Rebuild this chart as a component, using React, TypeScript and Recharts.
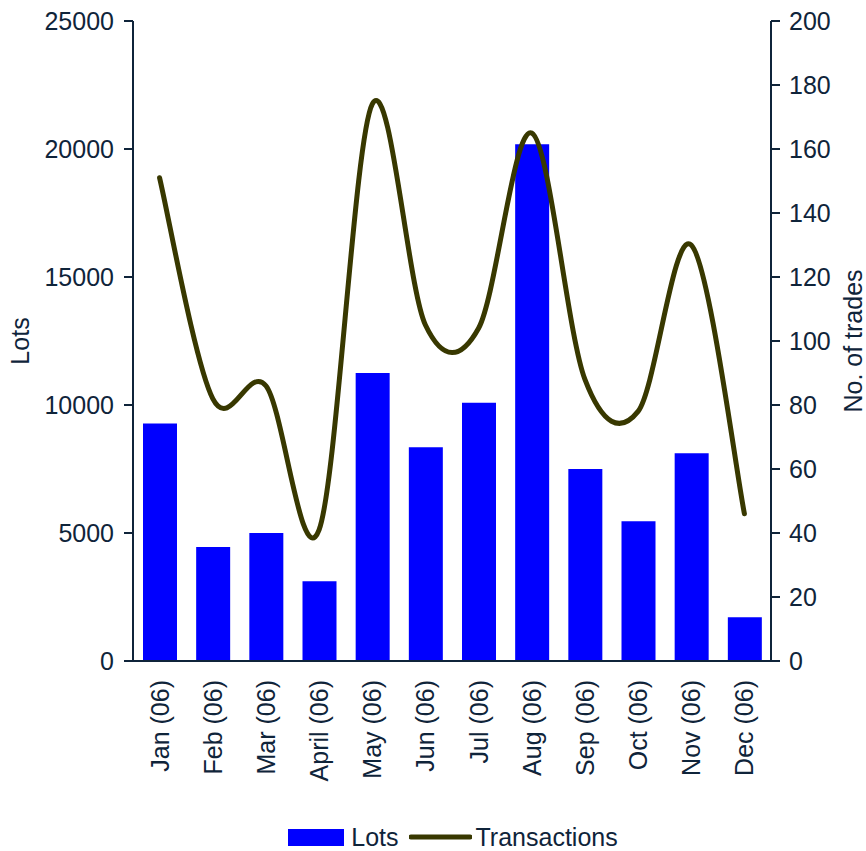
import React from "react";
import {
  ComposedChart,
  Bar,
  Line,
  XAxis,
  YAxis,
  Legend,
  Label,
} from "recharts";

const FONT = '"Liberation Sans", Arial, sans-serif';
const INK = "#0f243a";
const BAR_BLUE = "#0000ff";
const LINE_OLIVE = "#383800";

const months = [
  "Jan (06)",
  "Feb (06)",
  "Mar (06)",
  "April (06)",
  "May (06)",
  "Jun (06)",
  "Jul (06)",
  "Aug (06)",
  "Sep (06)",
  "Oct (06)",
  "Nov (06)",
  "Dec (06)",
];
const lots = [9280, 4450, 5000, 3120, 11250, 8350, 10090, 20190, 7500, 5460, 8120, 1710];
const transactions = [151, 82, 86, 41, 174, 105, 104, 165, 88, 78, 130, 46];
const lotTicks = [0, 5000, 10000, 15000, 20000, 25000];
const tradeTicks = [0, 20, 40, 60, 80, 100, 120, 140, 160, 180, 200];

const data = months.map((month, i) => ({
  month,
  lots: lots[i],
  transactions: transactions[i],
}));

// excel-style smoothed line (catmull-rom through the points)
function smoothCurve(context: any) {
  let pts: [number, number][] = [];
  return {
    areaStart() {},
    areaEnd() {},
    lineStart() {
      pts = [];
    },
    point(x: number, y: number) {
      pts.push([+x, +y]);
    },
    lineEnd() {
      if (!pts.length) return;
      context.moveTo(pts[0][0], pts[0][1]);
      for (let i = 0; i < pts.length - 1; i++) {
        const p0 = pts[i - 1] || pts[i];
        const p1 = pts[i];
        const p2 = pts[i + 1];
        const p3 = pts[i + 2] || p2;
        context.bezierCurveTo(
          p1[0] + (p2[0] - p0[0]) / 6,
          p1[1] + (p2[1] - p0[1]) / 6,
          p2[0] - (p3[0] - p1[0]) / 6,
          p2[1] - (p3[1] - p1[1]) / 6,
          p2[0],
          p2[1]
        );
      }
    },
  };
}

function MonthTick({ x, y, payload }: any) {
  return (
    <text
      x={0}
      y={0}
      transform={`translate(${x},${y}) rotate(-90)`}
      textAnchor="end"
      dominantBaseline="central"
      fontSize={25}
      fontFamily={FONT}
      fill={INK}
    >
      {payload.value}
    </text>
  );
}

function axisTitle(text: string, offset: number) {
  return ({ viewBox }: any) => {
    const cx = viewBox.x + offset;
    const cy = viewBox.y + viewBox.height / 2;
    return (
      <text
        x={cx}
        y={cy}
        transform={`rotate(-90, ${cx}, ${cy})`}
        textAnchor="middle"
        dominantBaseline="central"
        fontSize={25}
        fontFamily={FONT}
        fill={INK}
      >
        {text}
      </text>
    );
  };
}

function LegendRow() {
  return (
    <div
      style={{
        display: "flex",
        justifyContent: "center",
        alignItems: "center",
        height: 28,
        paddingLeft: 40,
        fontFamily: FONT,
        fontSize: 25,
        color: INK,
        lineHeight: "28px",
      }}
    >
      <span style={{ display: "inline-block", width: 56, height: 17, background: BAR_BLUE }} />
      <span style={{ marginLeft: 7 }}>Lots</span>
      <svg width={63} height={8} style={{ marginLeft: 10 }}>
        <line x1={2} y1={4} x2={61} y2={4} stroke={LINE_OLIVE} strokeWidth={5} strokeLinecap="round" />
      </svg>
      <span style={{ marginLeft: 4 }}>Transactions</span>
    </div>
  );
}

export default function App() {
  const tickStyle = { fontSize: 25, fontFamily: FONT, fill: INK };
  const axisStroke = { stroke: INK, strokeWidth: 2 };

  return (
    <div style={{ position: "absolute", left: 0, top: 0, background: "#fff" }}>
      <ComposedChart
        width={866}
        height={851}
        data={data}
        margin={{ top: 21, right: 0, left: 0, bottom: 0 }}
      >
        <XAxis
          dataKey="month"
          xAxisId="m"
          height={162}
          interval={0}
          tickLine={false}
          tickSize={6}
          tickMargin={13}
          axisLine={axisStroke}
          tick={<MonthTick />}
        />
        <YAxis
          yAxisId="left"
          width={133}
          domain={[0, 25000]}
          ticks={lotTicks}
          interval={0}
          tickSize={9}
          tickMargin={10}
          axisLine={axisStroke}
          tickLine={axisStroke}
          tick={tickStyle}
        >
          <Label content={axisTitle("Lots", 20)} />
        </YAxis>
        <YAxis
          yAxisId="right"
          orientation="right"
          width={95}
          domain={[0, 200]}
          ticks={tradeTicks}
          interval={0}
          tickSize={9}
          tickMargin={9}
          axisLine={axisStroke}
          tickLine={axisStroke}
          tick={tickStyle}
        >
          <Label content={axisTitle("No. of trades", 82)} />
        </YAxis>
        <Bar
          xAxisId="m"
          yAxisId="left"
          dataKey="lots"
          name="Lots"
          fill={BAR_BLUE}
          barSize={34}
          isAnimationActive={false}
        />
        <Line
          xAxisId="m"
          yAxisId="right"
          dataKey="transactions"
          name="Transactions"
          type={smoothCurve as any}
          stroke={LINE_OLIVE}
          strokeWidth={5}
          strokeLinejoin="round"
          strokeLinecap="round"
          dot={false}
          activeDot={false}
          isAnimationActive={false}
        />
        <Legend
          verticalAlign="bottom"
          height={28}
          wrapperStyle={{ left: 0, width: 866, bottom: 0 }}
          content={() => <LegendRow />}
        />
      </ComposedChart>
    </div>
  );
}
